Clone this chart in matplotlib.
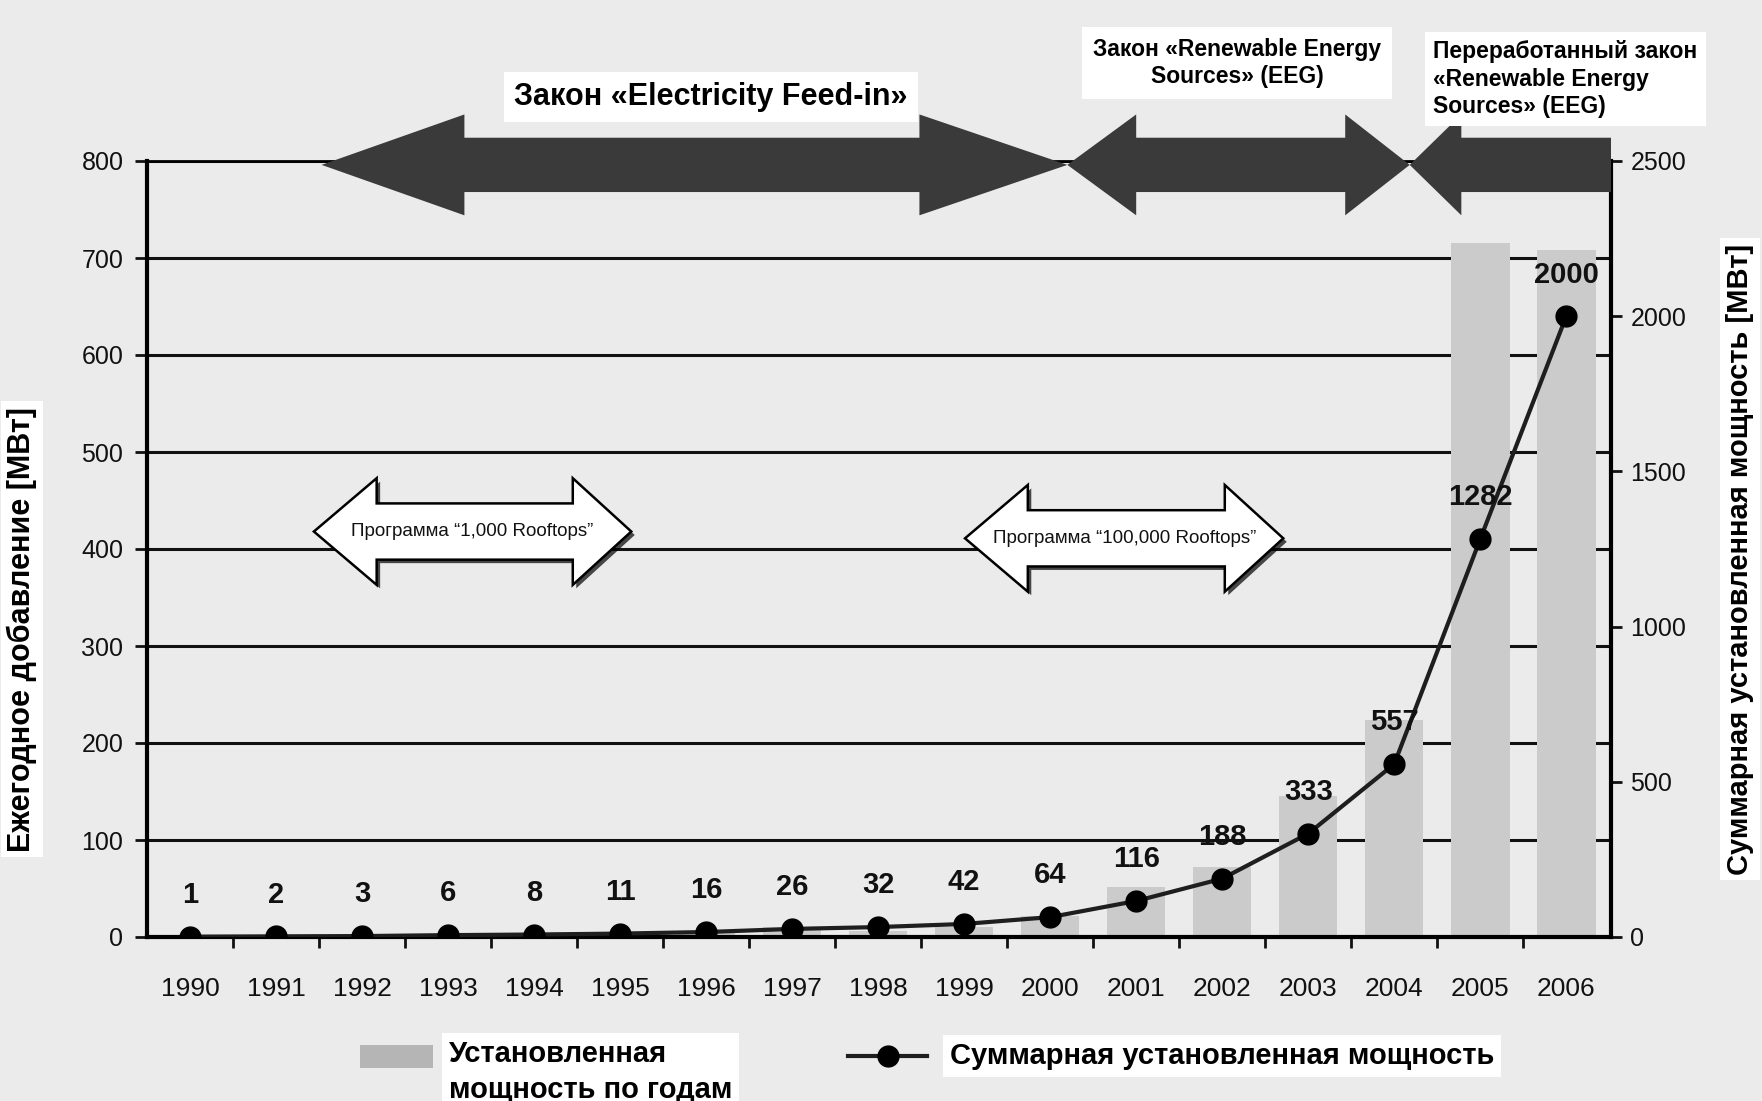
import matplotlib
matplotlib.use("Agg")
import matplotlib.pyplot as plt
from matplotlib.patches import Polygon, Rectangle
from matplotlib.lines import Line2D
import matplotlib.patheffects as pe

plt.rcParams['font.family'] = ['Liberation Sans', 'DejaVu Sans']

# data
years = [1990, 1991, 1992, 1993, 1994, 1995, 1996, 1997, 1998,
         1999, 2000, 2001, 2002, 2003, 2004, 2005, 2006]
annual_mw = [1, 1, 1, 3, 2, 3, 5, 10, 6, 10, 22, 52, 72, 145, 224, 715, 708]
cumulative_mw = [1, 2, 3, 6, 8, 11, 16, 26, 32, 42, 64, 116, 188, 333, 557, 1282, 2000]
left_ticks = [0, 100, 200, 300, 400, 500, 600, 700, 800]
right_ticks = [0, 500, 1000, 1500, 2000, 2500]

W, H = 1762, 1101
BG = '#ebebeb'


def fx(px):
    return px / W


def fy(py):
    return 1 - py / H


def arrow_pts(x0, x1, yc, head0, head1, hh, bh):
    pts = [(x0, yc), (x0 + head0, yc + hh), (x0 + head0, yc + bh)]
    if head1 > 0:
        pts += [(x1 - head1, yc + bh), (x1 - head1, yc + hh), (x1, yc),
                (x1 - head1, yc - hh), (x1 - head1, yc - bh)]
    else:
        pts += [(x1, yc + bh), (x1, yc - bh)]
    pts += [(x0 + head0, yc - bh), (x0 + head0, yc - hh)]
    return pts


fig = plt.figure(figsize=(W / 100, H / 100), dpi=100, facecolor=BG)
ax = fig.add_axes([fx(147), fy(937), fx(1611) - fx(147), fy(161) - fy(937)])
ax.set_facecolor(BG)
ax.set_xlim(1989.5, 2006.52)
ax.set_ylim(0, 800)

ax2 = ax.twinx()
ax2.set_ylim(0, 2500)

# bars, drawn over the grid
ax.set_axisbelow(True)
ax.yaxis.grid(True, color='#111111', linewidth=2.2)
ax.bar(years, annual_mw, width=0.68, color='#cbcbcb', zorder=2)

# cumulative line
ax2.plot(years, cumulative_mw, color='#1e1e1e', linewidth=3, marker='o',
         markersize=15, markerfacecolor='black', markeredgecolor='black', zorder=3)
for x, v in zip(years, cumulative_mw):
    ax2.annotate(str(v), (x, v), xytext=(0, 30), textcoords='offset points',
                 ha='center', va='center', fontsize=21, fontweight='bold', color='#111111')

# axes styling
ax.set_yticks(left_ticks)
ax.tick_params(axis='y', labelsize=18, length=9, width=2, pad=8, colors='#111111')
ax.set_xticks(years)
ax.set_xticklabels([str(y) for y in years])
ax.set_xticks([y + 0.5 for y in years[:-1]], minor=True)
ax.tick_params(axis='x', which='major', length=0, labelsize=19, pad=29, colors='#111111')
ax.tick_params(axis='x', which='minor', length=8, width=2, color='#111111')
ax2.set_yticks(right_ticks)
ax2.tick_params(axis='y', labelsize=18, length=8, width=2, pad=6, colors='#111111')

for s in ['left', 'bottom']:
    ax.spines[s].set_linewidth(3)
ax.spines['top'].set_linewidth(2)
ax.spines['right'].set_visible(False)
for s in ['top', 'left', 'bottom']:
    ax2.spines[s].set_visible(False)
ax2.spines['right'].set_linewidth(3)

# law period arrows along the top
dark = '#3a3a3a'
top_arrows = [
    arrow_pts(1991.53, 2000.2, 796, 1.66, 1.72, 52, 28),
    arrow_pts(2000.2, 2004.18, 796, 0.8, 0.75, 52, 28),
    arrow_pts(2004.18, 2006.52, 796, 0.6, 0, 52, 28),
]
for pts in top_arrows:
    ax2.add_patch(Polygon(pts, closed=True, facecolor=dark, edgecolor='none',
                          transform=ax.transData, clip_on=False, zorder=5))

# programme arrows
shadow = [pe.SimplePatchShadow(offset=(2.5, -2.5), shadow_rgbFace='black', alpha=0.7), pe.Normal()]
prog = [
    (1991.44, 1995.13, 418, 'Программа \u201c1,000 Rooftops\u201d'),
    (1999.01, 2002.71, 411, 'Программа \u201c100,000 Rooftops\u201d'),
]
for x0, x1, yc, label in prog:
    p = Polygon(arrow_pts(x0, x1, yc, 0.73, 0.68, 55, 29), closed=True,
                facecolor='white', edgecolor='black', linewidth=1.8, zorder=4)
    p.set_path_effects(shadow)
    ax.add_patch(p)
    ax.text((x0 + x1) / 2, yc, label, ha='center', va='center', fontsize=13.5,
            color='#111111', zorder=6)

# titles of the laws
fig.text(fx(711), fy(97), 'Закон «Electricity Feed-in»', ha='center', va='center',
         fontsize=22, fontweight='bold', bbox=dict(facecolor='white', edgecolor='none', pad=7))
fig.text(fx(1237), fy(63), 'Закон «Renewable Energy\nSources» (EEG)', ha='center',
         va='center', fontsize=16.5, fontweight='bold', linespacing=1.2,
         bbox=dict(facecolor='white', edgecolor='none', pad=8))
fig.text(fx(1433), fy(79), 'Переработанный закон\n«Renewable Energy\nSources» (EEG)',
         ha='left', va='center', fontsize=16.5, fontweight='bold', linespacing=1.25,
         bbox=dict(facecolor='white', edgecolor='none', pad=6))

# axis titles
fig.text(fx(22), fy(629), 'Ежегодное добавление [МВт]', rotation=90, ha='center',
         va='center', fontsize=22, fontweight='bold', bbox=dict(facecolor='white', edgecolor='none', pad=4))
fig.text(fx(1740), fy(559), 'Суммарная установленная мощность [МВт]', rotation=90,
         ha='center', va='center', fontsize=21, fontweight='bold',
         bbox=dict(facecolor='white', edgecolor='none', pad=4))

# legend
fig.add_artist(Rectangle((fx(360), fy(1068)), fx(433) - fx(360), fy(1045) - fy(1068),
                         transform=fig.transFigure, facecolor='#b5b5b5', edgecolor='none'))
fig.text(fx(449), fy(1072), 'Установленная\nмощность по годам', ha='left', va='center',
         fontsize=21, fontweight='bold', linespacing=1.4,
         bbox=dict(facecolor='white', edgecolor='none', pad=5))
fig.add_artist(Line2D([fx(848), fx(927)], [fy(1056), fy(1056)], transform=fig.transFigure,
                      color='#1e1e1e', linewidth=3))
fig.add_artist(Line2D([fx(888)], [fy(1056)], transform=fig.transFigure, marker='o',
                      markersize=15, color='black'))
fig.text(fx(950), fy(1056), 'Суммарная установленная мощность', ha='left', va='center',
         fontsize=21, fontweight='bold', bbox=dict(facecolor='white', edgecolor='none', pad=5))

fig.savefig('out.png', dpi=100, facecolor=BG)
